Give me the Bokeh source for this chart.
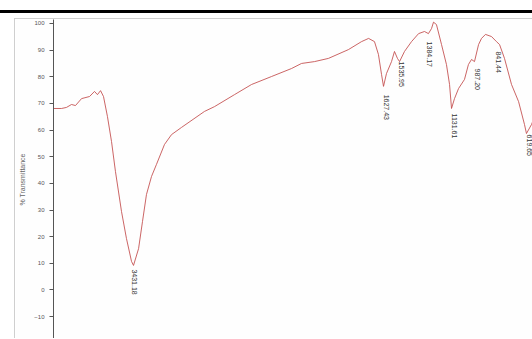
import math
from bokeh.plotting import figure
from bokeh.models import Range1d, Div, ColumnDataSource
from bokeh.layouts import column
from bokeh.embed import file_html
from bokeh.resources import INLINE

wavenumber = [4000, 3943, 3908, 3872, 3844, 3801, 3744, 3709, 3688, 3666, 3645, 3617, 3588, 3560,
              3517, 3482, 3446, 3432, 3396, 3368, 3340, 3304, 3269, 3212, 3162, 3091, 2928, 2857,
              2715, 2594, 2452, 2310, 2239, 2147, 2048, 1906, 1813, 1763, 1721, 1693, 1671, 1657,
              1636, 1600, 1579, 1558, 1543, 1508, 1458, 1408, 1366, 1338, 1316, 1302, 1281, 1245,
              1210, 1188, 1174, 1153, 1124, 1082, 1054, 1032, 1011, 982, 961, 933, 890, 855, 833,
              798, 748, 698, 656, 642, 606, 592]
transmittance = [68.1, 68.1, 68.5, 69.6, 69.2, 71.8, 72.6, 74.5, 73.3, 74.8, 72.6, 65.1, 55.7, 44.4,
                 29.4, 19.3, 10.7, 9.2, 15.5, 25.7, 35.8, 42.6, 47.1, 54.6, 58.3, 61.0, 67.0, 68.8,
                 73.3, 77.1, 80.1, 83.1, 85.0, 85.7, 86.9, 90.2, 93.2, 94.4, 93.2, 88.4, 80.9, 76.4,
                 81.2, 85.7, 89.5, 86.9, 85.7, 89.5, 93.2, 96.2, 97.0, 96.2, 98.1, 100.5, 99.6, 92.1,
                 84.6, 77.1, 68.1, 71.8, 75.6, 79.0, 84.6, 86.5, 85.7, 92.1, 94.4, 95.9, 95.1, 93.2, 92.1,
                 86.9, 77.1, 70.7, 62.1, 58.7, 62.1, 64.0]

peak_labels = ["3431.18", "1627.43", "1535.95", "1384.17", "1131.61", "987.20", "841.44", "619.65"]
peak_x = [3425, 1636, 1529, 1330, 1153, 990, 840, 620]
peak_y = [7.7, 73.3, 85.7, 93.2, 66.2, 83.1, 89.5, 58.3]

y_ticks = list(range(-20, 101, 10))

p = figure(width=518, height=320, output_backend="svg", toolbar_location=None,
           x_range=Range1d(4000, 592), y_range=Range1d(-18.6, 101.5),
           min_border_left=38, min_border_top=0, min_border_bottom=0, min_border_right=0,
           margin=(5, 0, 0, 14))
p.styles = {"border-left": "1px solid #cfcfcf", "border-top": "1px solid #cfcfcf"}
p.outline_line_color = None
p.background_fill_color = "#fefefe"
p.border_fill_color = "#fefefe"
p.grid.visible = False
p.xaxis.visible = False

ya = p.yaxis[0]
ya.ticker = y_ticks
ya.ticker.num_minor_ticks = 5
ya.axis_label = "% Transmittance"
ya.axis_label_text_font = "Liberation Sans"
ya.axis_label_text_font_size = "7px"
ya.axis_label_text_font_style = "normal"
ya.axis_label_text_color = "#666666"
ya.axis_label_standoff = 5
ya.major_label_text_font = "Liberation Sans"
ya.major_label_text_font_size = "6px"
ya.major_label_text_color = "#555555"
ya.axis_line_color = "#555555"
ya.major_tick_line_color = "#555555"
ya.minor_tick_line_color = "#777777"
ya.major_tick_out = 4
ya.major_tick_in = 0
ya.minor_tick_out = 2
ya.minor_tick_in = 0

p.line(wavenumber, transmittance, line_color="#c24a4a", line_width=1.0, line_alpha=0.85)

src = ColumnDataSource(dict(x=peak_x, y=peak_y, t=peak_labels))
p.text(x="x", y="y", text="t", source=src, angle=-math.pi / 2,
       text_align="left", text_baseline="middle", text_font_size="7px",
       text_color="#333333")

bar = Div(text="", width=532, height=3, margin=(10, 0, 0, 0),
          styles={"background-color": "#000000"})

layout = column(bar, p, spacing=0)
open("out.html", "w").write(file_html(layout, INLINE))
